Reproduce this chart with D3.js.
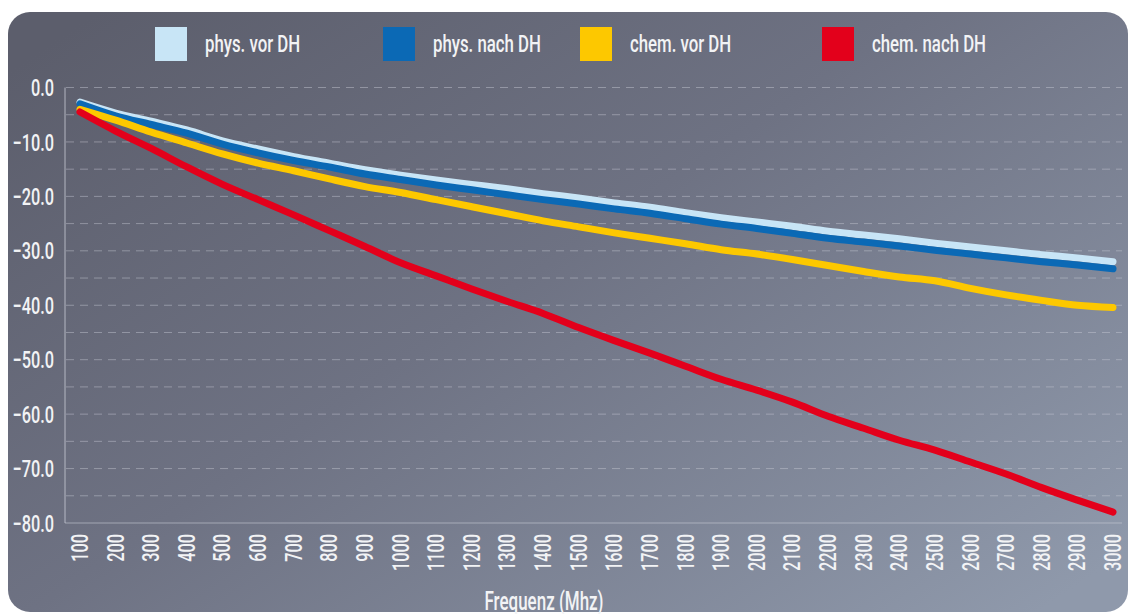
<!DOCTYPE html>
<html>
<head>
<meta charset="utf-8">
<script src="https://cdn.jsdelivr.net/npm/d3@7"></script>
<style>
  body { margin: 0; background: #ffffff; }
  svg { display: block; }
  text { font-family: Roboto, "Liberation Sans", sans-serif; font-weight: 500; fill: #f2f3f5; }
</style>
</head>
<body>
<svg id="chart" width="1130" height="614"></svg>
<script>
// Frequencies (MHz)
var freqs = d3.range(100, 3001, 100);
// tick labels for y
var yTicks = [0, -10, -20, -30, -40, -50, -60, -70, -80];

// series values (dB)
var physVor = [-2.7, -4.7, -6.2, -7.8, -9.8, -11.3, -12.7, -13.9, -15.1, -16.1,
               -17.0, -17.8, -18.6, -19.5, -20.3, -21.2, -22.0, -23.0, -23.9, -24.7,
               -25.5, -26.4, -27.1, -27.8, -28.6, -29.3, -30.0, -30.7, -31.3, -32.0];
var physNach = [-3.0, -5.2, -6.8, -8.4, -10.4, -12.0, -13.4, -14.6, -15.9, -16.9,
                -17.9, -18.8, -19.7, -20.6, -21.4, -22.3, -23.1, -24.1, -25.1, -25.9,
                -26.8, -27.7, -28.4, -29.1, -29.9, -30.6, -31.3, -32.0, -32.6, -33.3];
var chemVor = [-4.0, -6.0, -8.2, -10.2, -12.2, -13.9, -15.3, -16.8, -18.2, -19.3,
               -20.6, -21.9, -23.2, -24.5, -25.6, -26.7, -27.7, -28.7, -29.8, -30.6,
               -31.6, -32.7, -33.8, -34.8, -35.5, -36.9, -38.1, -39.1, -40.0, -40.4];
var chemNach = [-4.5, -8.0, -11.2, -14.6, -17.8, -20.6, -23.4, -26.3, -29.2, -32.2,
                -34.6, -37.0, -39.3, -41.5, -44.1, -46.5, -48.8, -51.2, -53.6, -55.6,
                -57.8, -60.4, -62.6, -64.8, -66.6, -68.8, -71.0, -73.5, -75.8, -78.0];

var seriesNames = ["phys. vor DH", "phys. nach DH", "chem. vor DH", "chem. nach DH"];
var seriesColors = ["#c8e5f6", "#0b69b5", "#fdc800", "#e3001b"];
var seriesValues = [physVor, physNach, chemVor, chemNach];

// the original uses a condensed face, so squeeze text horizontally
var squeeze = 0.68;

var svg = d3.select("#chart");

// background panel with gradient
var defs = svg.append("defs");
var grad = defs.append("linearGradient")
    .attr("id", "bg")
    .attr("x1", 0).attr("y1", 0.1)
    .attr("x2", 1).attr("y2", 0.9);
grad.append("stop").attr("offset", 0).attr("stop-color", "#5c5e6c");
grad.append("stop").attr("offset", 0.45).attr("stop-color", "#6e7283");
grad.append("stop").attr("offset", 1).attr("stop-color", "#8f99ab");

svg.append("rect")
    .attr("x", 8).attr("y", 12)
    .attr("width", 1120).attr("height", 600)
    .attr("rx", 22).attr("ry", 22)
    .attr("fill", "url(#bg)");

// scales
var x = d3.scaleLinear().domain([100, 3000]).range([80, 1113]);
var y = d3.scaleLinear().domain([-80, 0]).range([523, 87.5]);

// dashed grid every 5
svg.append("g").selectAll("line")
    .data(d3.range(-75, 1, 5))
    .enter()
    .append("line")
    .attr("x1", 66).attr("x2", 1122)
    .attr("y1", function(d) { return y(d); })
    .attr("y2", function(d) { return y(d); })
    .attr("stroke", "#c9ccd6")
    .attr("stroke-opacity", 0.45)
    .attr("stroke-width", 1)
    .attr("stroke-dasharray", "8,6");

// axis lines
svg.append("line")
    .attr("x1", 65).attr("x2", 65)
    .attr("y1", y(0)).attr("y2", y(-80))
    .attr("stroke", "#c9ccd6").attr("stroke-opacity", 0.8);
svg.append("line")
    .attr("x1", 65).attr("x2", 1122)
    .attr("y1", y(-80)).attr("y2", y(-80))
    .attr("stroke", "#c9ccd6").attr("stroke-opacity", 0.6);

// y labels
svg.append("g").selectAll("text")
    .data(yTicks)
    .enter()
    .append("text")
    .attr("transform", function(d) { return "translate(54," + y(d) + ") scale(" + squeeze + ",1)"; })
    .attr("dy", "0.36em")
    .attr("text-anchor", "end")
    .attr("font-size", 24)
    .text(function(d) { return d3.format(".1f")(d); });

// x labels, rotated
svg.append("g").selectAll("text")
    .data(freqs)
    .enter()
    .append("text")
    .attr("transform", function(d) {
        return "translate(" + (x(d) + 8) + ",534) rotate(-90) scale(" + squeeze + ",1)";
    })
    .attr("text-anchor", "end")
    .attr("font-size", 24)
    .text(function(d) { return d; });

// axis title
svg.append("text")
    .attr("transform", "translate(544,610) scale(" + squeeze + ",1)")
    .attr("text-anchor", "middle")
    .attr("font-size", 25)
    .text("Frequenz (Mhz)");

// lines
var line = d3.line()
    .x(function(d, i) { return x(freqs[i]); })
    .y(function(d) { return y(d); })
    .curve(d3.curveMonotoneX);

svg.append("g").selectAll("path")
    .data(seriesValues)
    .enter()
    .append("path")
    .attr("d", line)
    .attr("fill", "none")
    .attr("stroke", function(d, i) { return seriesColors[i]; })
    .attr("stroke-width", 7)
    .attr("stroke-linecap", "round")
    .attr("stroke-linejoin", "round");

// legend
var legendX = [155, 383, 580, 822];
var legend = svg.append("g").selectAll("g")
    .data(seriesNames)
    .enter()
    .append("g")
    .attr("transform", function(d, i) { return "translate(" + legendX[i] + ",27)"; });
legend.append("rect")
    .attr("width", 32).attr("height", 34)
    .attr("fill", function(d, i) { return seriesColors[i]; });
legend.append("text")
    .attr("transform", "translate(50,25) scale(0.73,1)")
    .attr("font-size", 23)
    .text(function(d) { return d; });
</script>
</body>
</html>
